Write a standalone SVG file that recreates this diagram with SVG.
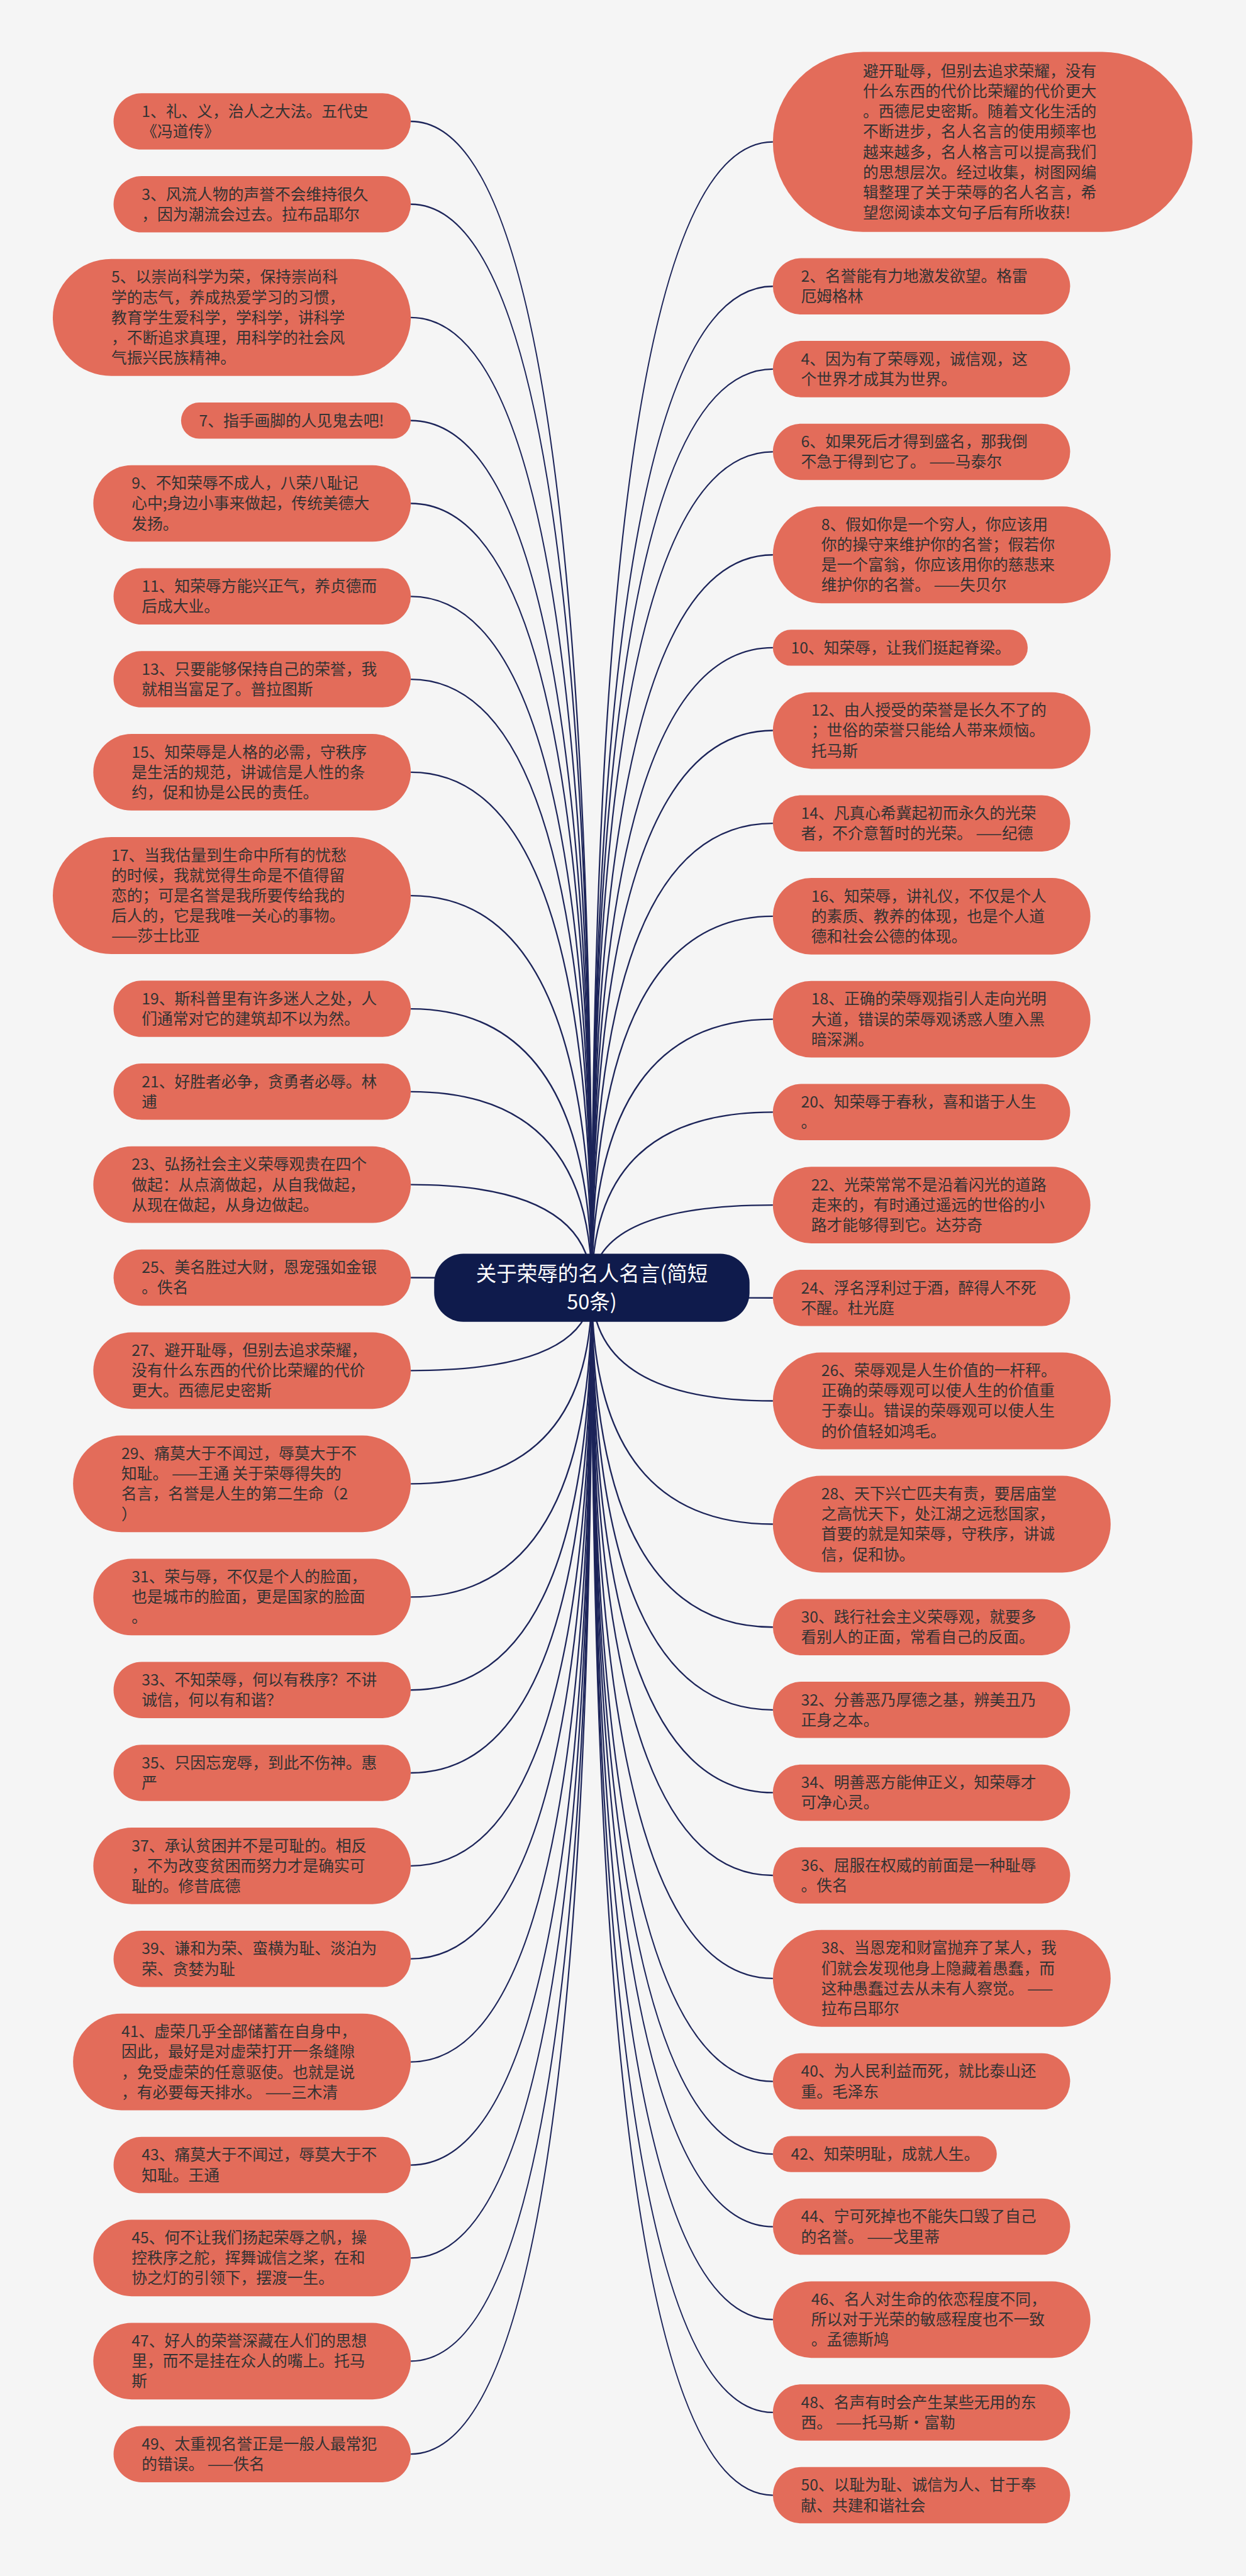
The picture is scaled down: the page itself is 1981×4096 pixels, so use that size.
<svg xmlns="http://www.w3.org/2000/svg" width="1981" height="4096" viewBox="0 0 1981 4096">
<style>
.b{fill:#E36C5A}
.t{font-family:"Noto Sans CJK SC","Noto Sans",sans-serif;font-size:32px;fill:#333333}
.c{fill:none;stroke:#1c2459;stroke-width:3}
.r{fill:#0f1b4c}
.rt{font-family:"Noto Sans CJK SC","Noto Sans",sans-serif;font-size:42px;fill:#ffffff;text-anchor:middle}
</style>
<rect width="1981" height="4096" fill="#f5f5f5"/>
<g transform="scale(0.77383)">
<g id="connectors">
<path class="c" d="M844 249.45Q1216 249.45 1216 2646"/>
<path class="c" d="M844 419.7Q1216 419.7 1216 2646"/>
<path class="c" d="M844 652.35Q1216 652.35 1216 2646"/>
<path class="c" d="M844 864.2Q1216 864.2 1216 2646"/>
<path class="c" d="M844 1034.45Q1216 1034.45 1216 2646"/>
<path class="c" d="M844 1225.5Q1216 1225.5 1216 2646"/>
<path class="c" d="M844 1395.75Q1216 1395.75 1216 2646"/>
<path class="c" d="M844 1586.8Q1216 1586.8 1216 2646"/>
<path class="c" d="M844 1840.25Q1216 1840.25 1216 2646"/>
<path class="c" d="M844 2072.9Q1216 2072.9 1216 2646"/>
<path class="c" d="M844 2243.15Q1216 2243.15 1216 2646"/>
<path class="c" d="M844 2434.2Q1216 2434.2 1216 2646"/>
<path class="c" d="M844 2625.25Q1216 2625.25 1216 2646"/>
<path class="c" d="M844 2816.3Q1216 2816.3 1216 2646"/>
<path class="c" d="M844 3048.95Q1216 3048.95 1216 2646"/>
<path class="c" d="M844 3281.6Q1216 3281.6 1216 2646"/>
<path class="c" d="M844 3472.65Q1216 3472.65 1216 2646"/>
<path class="c" d="M844 3642.9Q1216 3642.9 1216 2646"/>
<path class="c" d="M844 3833.95Q1216 3833.95 1216 2646"/>
<path class="c" d="M844 4025Q1216 4025 1216 2646"/>
<path class="c" d="M844 4236.85Q1216 4236.85 1216 2646"/>
<path class="c" d="M844 4448.7Q1216 4448.7 1216 2646"/>
<path class="c" d="M844 4639.75Q1216 4639.75 1216 2646"/>
<path class="c" d="M844 4851.6Q1216 4851.6 1216 2646"/>
<path class="c" d="M844 5042.65Q1216 5042.65 1216 2646"/>
<path class="c" d="M1588 291.6Q1216 291.6 1216 2646"/>
<path class="c" d="M1588 588.35Q1216 588.35 1216 2646"/>
<path class="c" d="M1588 758.4Q1216 758.4 1216 2646"/>
<path class="c" d="M1588 928.45Q1216 928.45 1216 2646"/>
<path class="c" d="M1588 1140.1Q1216 1140.1 1216 2646"/>
<path class="c" d="M1588 1330.95Q1216 1330.95 1216 2646"/>
<path class="c" d="M1588 1501Q1216 1501 1216 2646"/>
<path class="c" d="M1588 1691.85Q1216 1691.85 1216 2646"/>
<path class="c" d="M1588 1882.7Q1216 1882.7 1216 2646"/>
<path class="c" d="M1588 2094.35Q1216 2094.35 1216 2646"/>
<path class="c" d="M1588 2285.2Q1216 2285.2 1216 2646"/>
<path class="c" d="M1588 2476.05Q1216 2476.05 1216 2646"/>
<path class="c" d="M1588 2666.9Q1216 2666.9 1216 2646"/>
<path class="c" d="M1588 2878.55Q1216 2878.55 1216 2646"/>
<path class="c" d="M1588 3131.8Q1216 3131.8 1216 2646"/>
<path class="c" d="M1588 3343.45Q1216 3343.45 1216 2646"/>
<path class="c" d="M1588 3513.5Q1216 3513.5 1216 2646"/>
<path class="c" d="M1588 3683.55Q1216 3683.55 1216 2646"/>
<path class="c" d="M1588 3853.6Q1216 3853.6 1216 2646"/>
<path class="c" d="M1588 4065.25Q1216 4065.25 1216 2646"/>
<path class="c" d="M1588 4276.9Q1216 4276.9 1216 2646"/>
<path class="c" d="M1588 4426.15Q1216 4426.15 1216 2646"/>
<path class="c" d="M1588 4575.4Q1216 4575.4 1216 2646"/>
<path class="c" d="M1588 4766.25Q1216 4766.25 1216 2646"/>
<path class="c" d="M1588 4957.1Q1216 4957.1 1216 2646"/>
<path class="c" d="M1588 5127.15Q1216 5127.15 1216 2646"/>
</g>

<g id="root"><rect class="r" x="892" y="2576" width="648" height="140" rx="60"/><text class="rt"><tspan x="1216" y="2633">关于荣辱的名人名言(简短</tspan><tspan x="1216" y="2691">50条)</tspan></text></g>

<g id="n1" transform="translate(233.3,191.6)"><rect class="b" width="610.7" height="115.7" rx="57.85"/><text class="t"><tspan x="57.85" y="48.55">1、礼、义，治人之大法。五代史</tspan><tspan x="57.85" dy="41.6">《冯道传》</tspan></text></g>
<g id="n3" transform="translate(233.3,361.85)"><rect class="b" width="610.7" height="115.7" rx="57.85"/><text class="t"><tspan x="57.85" y="48.55">3、风流人物的声誉不会维持很久</tspan><tspan x="57.85" dy="41.6">，因为潮流会过去。拉布品耶尔</tspan></text></g>
<g id="n5" transform="translate(108.5,532.1)"><rect class="b" width="735.5" height="240.5" rx="120.25"/><text class="t"><tspan x="120.25" y="48.55">5、以崇尚科学为荣，保持崇尚科</tspan><tspan x="120.25" dy="41.6">学的志气，养成热爱学习的习惯，</tspan><tspan x="120.25" dy="41.6">教育学生爱科学，学科学，讲科学</tspan><tspan x="120.25" dy="41.6">，不断追求真理，用科学的社会风</tspan><tspan x="120.25" dy="41.6">气振兴民族精神。</tspan></text></g>
<g id="n7" transform="translate(372,827.15)"><rect class="b" width="472" height="74.1" rx="37.05"/><text class="t"><tspan x="37.05" y="48.55">7、指手画脚的人见鬼去吧!</tspan></text></g>
<g id="n9" transform="translate(191.7,955.8)"><rect class="b" width="652.3" height="157.3" rx="78.65"/><text class="t"><tspan x="78.65" y="48.55">9、不知荣辱不成人，八荣八耻记</tspan><tspan x="78.65" dy="41.6">心中;身边小事来做起，传统美德大</tspan><tspan x="78.65" dy="41.6">发扬。</tspan></text></g>
<g id="n11" transform="translate(233.3,1167.65)"><rect class="b" width="610.7" height="115.7" rx="57.85"/><text class="t"><tspan x="57.85" y="48.55">11、知荣辱方能兴正气，养贞德而</tspan><tspan x="57.85" dy="41.6">后成大业。</tspan></text></g>
<g id="n13" transform="translate(233.3,1337.9)"><rect class="b" width="610.7" height="115.7" rx="57.85"/><text class="t"><tspan x="57.85" y="48.55">13、只要能够保持自己的荣誉，我</tspan><tspan x="57.85" dy="41.6">就相当富足了。普拉图斯</tspan></text></g>
<g id="n15" transform="translate(191.7,1508.15)"><rect class="b" width="652.3" height="157.3" rx="78.65"/><text class="t"><tspan x="78.65" y="48.55">15、知荣辱是人格的必需，守秩序</tspan><tspan x="78.65" dy="41.6">是生活的规范，讲诚信是人性的条</tspan><tspan x="78.65" dy="41.6">约，促和协是公民的责任。</tspan></text></g>
<g id="n17" transform="translate(108.5,1720)"><rect class="b" width="735.5" height="240.5" rx="120.25"/><text class="t"><tspan x="120.25" y="48.55">17、当我估量到生命中所有的忧愁</tspan><tspan x="120.25" dy="41.6">的时候，我就觉得生命是不值得留</tspan><tspan x="120.25" dy="41.6">恋的；可是名誉是我所要传给我的</tspan><tspan x="120.25" dy="41.6">后人的，它是我唯一关心的事物。</tspan><tspan x="120.25" dy="41.6">——莎士比亚</tspan></text></g>
<g id="n19" transform="translate(233.3,2015.05)"><rect class="b" width="610.7" height="115.7" rx="57.85"/><text class="t"><tspan x="57.85" y="48.55">19、斯科普里有许多迷人之处，人</tspan><tspan x="57.85" dy="41.6">们通常对它的建筑却不以为然。</tspan></text></g>
<g id="n21" transform="translate(233.3,2185.3)"><rect class="b" width="610.7" height="115.7" rx="57.85"/><text class="t"><tspan x="57.85" y="48.55">21、好胜者必争，贪勇者必辱。林</tspan><tspan x="57.85" dy="41.6">逋</tspan></text></g>
<g id="n23" transform="translate(191.7,2355.55)"><rect class="b" width="652.3" height="157.3" rx="78.65"/><text class="t"><tspan x="78.65" y="48.55">23、弘扬社会主义荣辱观贵在四个</tspan><tspan x="78.65" dy="41.6">做起：从点滴做起，从自我做起，</tspan><tspan x="78.65" dy="41.6">从现在做起，从身边做起。</tspan></text></g>
<g id="n25" transform="translate(233.3,2567.4)"><rect class="b" width="610.7" height="115.7" rx="57.85"/><text class="t"><tspan x="57.85" y="48.55">25、美名胜过大财，恩宠强如金银</tspan><tspan x="57.85" dy="41.6">。佚名</tspan></text></g>
<g id="n27" transform="translate(191.7,2737.65)"><rect class="b" width="652.3" height="157.3" rx="78.65"/><text class="t"><tspan x="78.65" y="48.55">27、避开耻辱，但别去追求荣耀，</tspan><tspan x="78.65" dy="41.6">没有什么东西的代价比荣耀的代价</tspan><tspan x="78.65" dy="41.6">更大。西德尼史密斯</tspan></text></g>
<g id="n29" transform="translate(150.1,2949.5)"><rect class="b" width="693.9" height="198.9" rx="99.45"/><text class="t"><tspan x="99.45" y="48.55">29、痛莫大于不闻过，辱莫大于不</tspan><tspan x="99.45" dy="41.6">知耻。 ——王通 关于荣辱得失的</tspan><tspan x="99.45" dy="41.6">名言，名誉是人生的第二生命（2</tspan><tspan x="99.45" dy="41.6">）</tspan></text></g>
<g id="n31" transform="translate(191.7,3202.95)"><rect class="b" width="652.3" height="157.3" rx="78.65"/><text class="t"><tspan x="78.65" y="48.55">31、荣与辱，不仅是个人的脸面，</tspan><tspan x="78.65" dy="41.6">也是城市的脸面，更是国家的脸面</tspan><tspan x="78.65" dy="41.6">。</tspan></text></g>
<g id="n33" transform="translate(233.3,3414.8)"><rect class="b" width="610.7" height="115.7" rx="57.85"/><text class="t"><tspan x="57.85" y="48.55">33、不知荣辱，何以有秩序？不讲</tspan><tspan x="57.85" dy="41.6">诚信，何以有和谐？</tspan></text></g>
<g id="n35" transform="translate(233.3,3585.05)"><rect class="b" width="610.7" height="115.7" rx="57.85"/><text class="t"><tspan x="57.85" y="48.55">35、只因忘宠辱，到此不伤神。惠</tspan><tspan x="57.85" dy="41.6">严</tspan></text></g>
<g id="n37" transform="translate(191.7,3755.3)"><rect class="b" width="652.3" height="157.3" rx="78.65"/><text class="t"><tspan x="78.65" y="48.55">37、承认贫困并不是可耻的。相反</tspan><tspan x="78.65" dy="41.6">，不为改变贫困而努力才是确实可</tspan><tspan x="78.65" dy="41.6">耻的。修昔底德</tspan></text></g>
<g id="n39" transform="translate(233.3,3967.15)"><rect class="b" width="610.7" height="115.7" rx="57.85"/><text class="t"><tspan x="57.85" y="48.55">39、谦和为荣、蛮横为耻、淡泊为</tspan><tspan x="57.85" dy="41.6">荣、贪婪为耻</tspan></text></g>
<g id="n41" transform="translate(150.1,4137.4)"><rect class="b" width="693.9" height="198.9" rx="99.45"/><text class="t"><tspan x="99.45" y="48.55">41、虚荣几乎全部储蓄在自身中，</tspan><tspan x="99.45" dy="41.6">因此，最好是对虚荣打开一条缝隙</tspan><tspan x="99.45" dy="41.6">，免受虚荣的任意驱使。也就是说</tspan><tspan x="99.45" dy="41.6">，有必要每天排水。 ——三木清</tspan></text></g>
<g id="n43" transform="translate(233.3,4390.85)"><rect class="b" width="610.7" height="115.7" rx="57.85"/><text class="t"><tspan x="57.85" y="48.55">43、痛莫大于不闻过，辱莫大于不</tspan><tspan x="57.85" dy="41.6">知耻。王通</tspan></text></g>
<g id="n45" transform="translate(191.7,4561.1)"><rect class="b" width="652.3" height="157.3" rx="78.65"/><text class="t"><tspan x="78.65" y="48.55">45、何不让我们扬起荣辱之帆，操</tspan><tspan x="78.65" dy="41.6">控秩序之舵，挥舞诚信之桨，在和</tspan><tspan x="78.65" dy="41.6">协之灯的引领下，摆渡一生。</tspan></text></g>
<g id="n47" transform="translate(191.7,4772.95)"><rect class="b" width="652.3" height="157.3" rx="78.65"/><text class="t"><tspan x="78.65" y="48.55">47、好人的荣誉深藏在人们的思想</tspan><tspan x="78.65" dy="41.6">里，而不是挂在众人的嘴上。托马</tspan><tspan x="78.65" dy="41.6">斯</tspan></text></g>
<g id="n49" transform="translate(233.3,4984.8)"><rect class="b" width="610.7" height="115.7" rx="57.85"/><text class="t"><tspan x="57.85" y="48.55">49、太重视名誉正是一般人最常犯</tspan><tspan x="57.85" dy="41.6">的错误。 ——佚名</tspan></text></g>

<g id="intro" transform="translate(1588,106.6)"><rect class="b" width="862" height="370" rx="185"/><text class="t"><tspan x="185" y="50.9">避开耻辱，但别去追求荣耀，没有</tspan><tspan x="185" dy="41.6">什么东西的代价比荣耀的代价更大</tspan><tspan x="185" dy="41.6">。西德尼史密斯。随着文化生活的</tspan><tspan x="185" dy="41.6">不断进步，名人名言的使用频率也</tspan><tspan x="185" dy="41.6">越来越多，名人格言可以提高我们</tspan><tspan x="185" dy="41.6">的思想层次。经过收集，树图网编</tspan><tspan x="185" dy="41.6">辑整理了关于荣辱的名人名言，希</tspan><tspan x="185" dy="41.6">望您阅读本文句子后有所收获!</tspan></text></g>
<g id="n2" transform="translate(1588,530.5)"><rect class="b" width="610.7" height="115.7" rx="57.85"/><text class="t"><tspan x="57.85" y="48.55">2、名誉能有力地激发欲望。格雷</tspan><tspan x="57.85" dy="41.6">厄姆格林</tspan></text></g>
<g id="n4" transform="translate(1588,700.55)"><rect class="b" width="610.7" height="115.7" rx="57.85"/><text class="t"><tspan x="57.85" y="48.55">4、因为有了荣辱观，诚信观，这</tspan><tspan x="57.85" dy="41.6">个世界才成其为世界。</tspan></text></g>
<g id="n6" transform="translate(1588,870.6)"><rect class="b" width="610.7" height="115.7" rx="57.85"/><text class="t"><tspan x="57.85" y="48.55">6、如果死后才得到盛名，那我倒</tspan><tspan x="57.85" dy="41.6">不急于得到它了。 ——马泰尔</tspan></text></g>
<g id="n8" transform="translate(1588,1040.65)"><rect class="b" width="693.9" height="198.9" rx="99.45"/><text class="t"><tspan x="99.45" y="48.55">8、假如你是一个穷人，你应该用</tspan><tspan x="99.45" dy="41.6">你的操守来维护你的名誉；假若你</tspan><tspan x="99.45" dy="41.6">是一个富翁，你应该用你的慈悲来</tspan><tspan x="99.45" dy="41.6">维护你的名誉。 ——失贝尔</tspan></text></g>
<g id="n10" transform="translate(1588,1293.9)"><rect class="b" width="523.5" height="74.1" rx="37.05"/><text class="t"><tspan x="37.05" y="48.55">10、知荣辱，让我们挺起脊梁。</tspan></text></g>
<g id="n12" transform="translate(1588,1422.35)"><rect class="b" width="652.3" height="157.3" rx="78.65"/><text class="t"><tspan x="78.65" y="48.55">12、由人授受的荣誉是长久不了的</tspan><tspan x="78.65" dy="41.6">；世俗的荣誉只能给人带来烦恼。</tspan><tspan x="78.65" dy="41.6">托马斯</tspan></text></g>
<g id="n14" transform="translate(1588,1634)"><rect class="b" width="610.7" height="115.7" rx="57.85"/><text class="t"><tspan x="57.85" y="48.55">14、凡真心希冀起初而永久的光荣</tspan><tspan x="57.85" dy="41.6">者，不介意暂时的光荣。 ——纪德</tspan></text></g>
<g id="n16" transform="translate(1588,1804.05)"><rect class="b" width="652.3" height="157.3" rx="78.65"/><text class="t"><tspan x="78.65" y="48.55">16、知荣辱，讲礼仪，不仅是个人</tspan><tspan x="78.65" dy="41.6">的素质、教养的体现，也是个人道</tspan><tspan x="78.65" dy="41.6">德和社会公德的体现。</tspan></text></g>
<g id="n18" transform="translate(1588,2015.7)"><rect class="b" width="652.3" height="157.3" rx="78.65"/><text class="t"><tspan x="78.65" y="48.55">18、正确的荣辱观指引人走向光明</tspan><tspan x="78.65" dy="41.6">大道，错误的荣辱观诱惑人堕入黑</tspan><tspan x="78.65" dy="41.6">暗深渊。</tspan></text></g>
<g id="n20" transform="translate(1588,2227.35)"><rect class="b" width="610.7" height="115.7" rx="57.85"/><text class="t"><tspan x="57.85" y="48.55">20、知荣辱于春秋，喜和谐于人生</tspan><tspan x="57.85" dy="41.6">。</tspan></text></g>
<g id="n22" transform="translate(1588,2397.4)"><rect class="b" width="652.3" height="157.3" rx="78.65"/><text class="t"><tspan x="78.65" y="48.55">22、光荣常常不是沿着闪光的道路</tspan><tspan x="78.65" dy="41.6">走来的，有时通过遥远的世俗的小</tspan><tspan x="78.65" dy="41.6">路才能够得到它。达芬奇</tspan></text></g>
<g id="n24" transform="translate(1588,2609.05)"><rect class="b" width="610.7" height="115.7" rx="57.85"/><text class="t"><tspan x="57.85" y="48.55">24、浮名浮利过于酒，醉得人不死</tspan><tspan x="57.85" dy="41.6">不醒。杜光庭</tspan></text></g>
<g id="n26" transform="translate(1588,2779.1)"><rect class="b" width="693.9" height="198.9" rx="99.45"/><text class="t"><tspan x="99.45" y="48.55">26、荣辱观是人生价值的一杆秤。</tspan><tspan x="99.45" dy="41.6">正确的荣辱观可以使人生的价值重</tspan><tspan x="99.45" dy="41.6">于泰山。错误的荣辱观可以使人生</tspan><tspan x="99.45" dy="41.6">的价值轻如鸿毛。</tspan></text></g>
<g id="n28" transform="translate(1588,3032.35)"><rect class="b" width="693.9" height="198.9" rx="99.45"/><text class="t"><tspan x="99.45" y="48.55">28、天下兴亡匹夫有责，要居庙堂</tspan><tspan x="99.45" dy="41.6">之高忧天下，处江湖之远愁国家，</tspan><tspan x="99.45" dy="41.6">首要的就是知荣辱，守秩序，讲诚</tspan><tspan x="99.45" dy="41.6">信，促和协。</tspan></text></g>
<g id="n30" transform="translate(1588,3285.6)"><rect class="b" width="610.7" height="115.7" rx="57.85"/><text class="t"><tspan x="57.85" y="48.55">30、践行社会主义荣辱观，就要多</tspan><tspan x="57.85" dy="41.6">看别人的正面，常看自己的反面。</tspan></text></g>
<g id="n32" transform="translate(1588,3455.65)"><rect class="b" width="610.7" height="115.7" rx="57.85"/><text class="t"><tspan x="57.85" y="48.55">32、分善恶乃厚德之基，辨美丑乃</tspan><tspan x="57.85" dy="41.6">正身之本。</tspan></text></g>
<g id="n34" transform="translate(1588,3625.7)"><rect class="b" width="610.7" height="115.7" rx="57.85"/><text class="t"><tspan x="57.85" y="48.55">34、明善恶方能伸正义，知荣辱才</tspan><tspan x="57.85" dy="41.6">可净心灵。</tspan></text></g>
<g id="n36" transform="translate(1588,3795.75)"><rect class="b" width="610.7" height="115.7" rx="57.85"/><text class="t"><tspan x="57.85" y="48.55">36、屈服在权威的前面是一种耻辱</tspan><tspan x="57.85" dy="41.6">。佚名</tspan></text></g>
<g id="n38" transform="translate(1588,3965.8)"><rect class="b" width="693.9" height="198.9" rx="99.45"/><text class="t"><tspan x="99.45" y="48.55">38、当恩宠和财富抛弃了某人，我</tspan><tspan x="99.45" dy="41.6">们就会发现他身上隐藏着愚蠢，而</tspan><tspan x="99.45" dy="41.6">这种愚蠢过去从未有人察觉。 ——</tspan><tspan x="99.45" dy="41.6">拉布吕耶尔</tspan></text></g>
<g id="n40" transform="translate(1588,4219.05)"><rect class="b" width="610.7" height="115.7" rx="57.85"/><text class="t"><tspan x="57.85" y="48.55">40、为人民利益而死，就比泰山还</tspan><tspan x="57.85" dy="41.6">重。毛泽东</tspan></text></g>
<g id="n42" transform="translate(1588,4389.1)"><rect class="b" width="460" height="74.1" rx="37.05"/><text class="t"><tspan x="37.05" y="48.55">42、知荣明耻，成就人生。</tspan></text></g>
<g id="n44" transform="translate(1588,4517.55)"><rect class="b" width="610.7" height="115.7" rx="57.85"/><text class="t"><tspan x="57.85" y="48.55">44、宁可死掉也不能失口毁了自己</tspan><tspan x="57.85" dy="41.6">的名誉。 ——戈里蒂</tspan></text></g>
<g id="n46" transform="translate(1588,4687.6)"><rect class="b" width="652.3" height="157.3" rx="78.65"/><text class="t"><tspan x="78.65" y="48.55">46、名人对生命的依恋程度不同，</tspan><tspan x="78.65" dy="41.6">所以对于光荣的敏感程度也不一致</tspan><tspan x="78.65" dy="41.6">。孟德斯鸠</tspan></text></g>
<g id="n48" transform="translate(1588,4899.25)"><rect class="b" width="610.7" height="115.7" rx="57.85"/><text class="t"><tspan x="57.85" y="48.55">48、名声有时会产生某些无用的东</tspan><tspan x="57.85" dy="41.6">西。 ——托马斯·富勒</tspan></text></g>
<g id="n50" transform="translate(1588,5069.3)"><rect class="b" width="610.7" height="115.7" rx="57.85"/><text class="t"><tspan x="57.85" y="48.55">50、以耻为耻、诚信为人、甘于奉</tspan><tspan x="57.85" dy="41.6">献、共建和谐社会</tspan></text></g>
</g>
</svg>
